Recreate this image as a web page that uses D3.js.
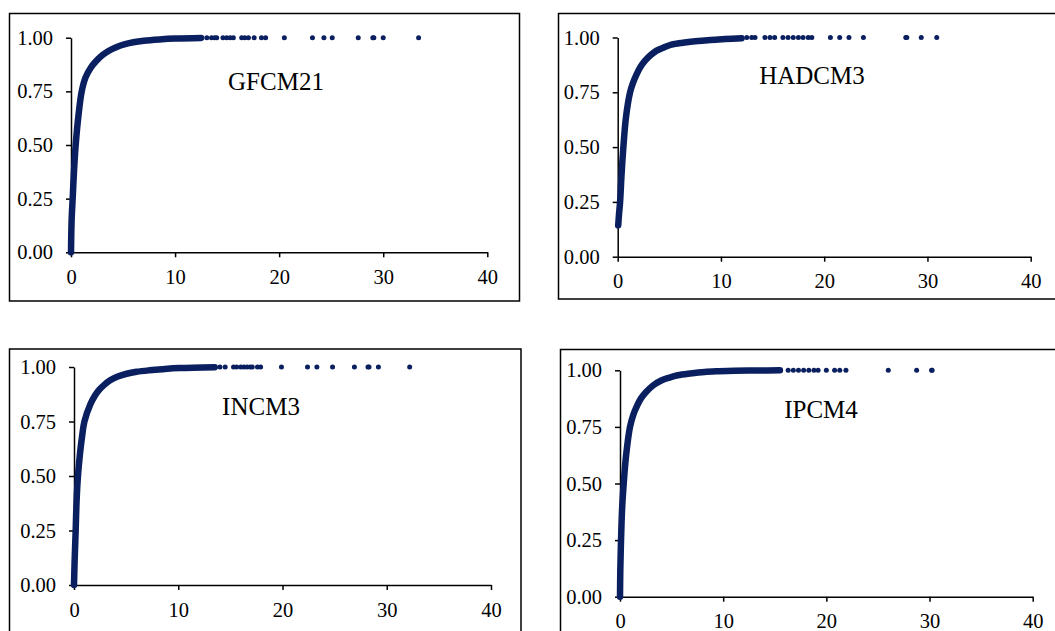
<!DOCTYPE html>
<html>
<head>
<meta charset="utf-8">
<script src="https://cdn.jsdelivr.net/npm/d3@7"></script>
<style>
    body { margin: 0; background: #fff; }
    svg { display: block; font-family: "Liberation Serif", "Times New Roman", serif; }
</style>
</head>
<body>
<svg id="chart" width="1055" height="631"></svg>
<script>
// values
let titles = ['GFCM21', 'HADCM3', 'INCM3', 'IPCM4'];
let xTicks = [0, 10, 20, 30, 40];
let yTicks = [0, 0.25, 0.5, 0.75, 1];

let gfcmX = [0, 0.06, 0.16, 0.29, 0.45, 0.7, 1.03, 1.4, 1.9, 2.4, 3.0, 3.6, 4.4, 5.2, 6.0, 7.0, 8.5, 10, 12.5];
let gfcmY = [0, 0.15, 0.25, 0.38, 0.5, 0.63, 0.75, 0.815, 0.86, 0.89, 0.918, 0.938, 0.957, 0.97, 0.979, 0.986, 0.992, 0.996, 0.999];
let gfcmTail = [13.05, 13.5, 13.8, 14.0, 14.6, 14.96, 15.3, 15.6, 16.4, 16.7, 17.05, 17.6, 18.3, 18.7, 20.5, 23.2, 24.3, 25.1, 27.6, 29.0, 29.1, 30.0, 33.4];

let hadX = [0.05, 0.12, 0.23, 0.38, 0.55, 0.8, 1.2, 1.5, 1.84, 2.2, 2.65, 3.2, 3.77, 4.5, 5.2, 6.3, 7.5, 9.0, 10.4, 12.0];
let hadY = [0.143, 0.19, 0.25, 0.38, 0.5, 0.636, 0.75, 0.795, 0.833, 0.865, 0.894, 0.92, 0.94, 0.955, 0.967, 0.976, 0.983, 0.989, 0.993, 0.997];
let hadTail = [12.5, 12.98, 13.3, 14.26, 14.75, 15.2, 16.0, 16.5, 17.0, 17.5, 17.95, 18.45, 18.8, 20.6, 21.5, 22.4, 23.8, 27.9, 28.0, 29.4, 30.9];

let incX = [0, 0.06, 0.16, 0.25, 0.38, 0.57, 0.77, 1.0, 1.58, 2.0, 2.37, 2.9, 3.47, 4.2, 5.05, 6.0, 7.26, 8.5, 10.1, 13.5];
let incY = [0, 0.11, 0.25, 0.387, 0.5, 0.6, 0.68, 0.75, 0.83, 0.868, 0.893, 0.918, 0.939, 0.956, 0.969, 0.978, 0.985, 0.99, 0.995, 0.999];
let incTail = [14.0, 14.5, 15.3, 15.6, 16.0, 16.3, 16.6, 16.9, 17.1, 17.6, 17.9, 19.9, 22.4, 23.3, 24.8, 26.9, 28.2, 28.3, 29.2, 32.2];

let ipcX = [0, 0.03, 0.1, 0.2, 0.36, 0.58, 0.97, 1.3, 1.66, 2.05, 2.53, 3.2, 4.0, 4.8, 5.6, 6.8, 8.2, 9.6, 11.1, 13.5, 15.5];
let ipcY = [0, 0.118, 0.25, 0.385, 0.5, 0.62, 0.75, 0.805, 0.844, 0.877, 0.904, 0.933, 0.955, 0.968, 0.978, 0.986, 0.993, 0.996, 0.998, 0.999, 1.0];
let ipcTail = [16.3, 16.8, 17.3, 17.8, 18.3, 18.8, 19.2, 20.0, 20.8, 21.3, 21.9, 26.0, 28.75, 30.2, 30.25];

let color = '#0a1f5f';

// panel layout (pixels)
let panels = [
    {box: [9.5, 13.5, 510, 287.5], xr: [71, 487.3], yr: [252.3, 37.7], title: [276, 90], xs: gfcmX, ys: gfcmY, tail: gfcmTail},
    {box: [558.5, 13.5, 520, 285.5], xr: [617.7, 1030.7], yr: [256.7, 37.5], title: [812, 84], xs: hadX, ys: hadY, tail: hadTail},
    {box: [9.5, 349, 511.5, 300], xr: [74, 491], yr: [585, 367], title: [261, 415], xs: incX, ys: incY, tail: incTail},
    {box: [560.5, 349.5, 520, 300], xr: [620, 1032.7], yr: [596.7, 370.3], title: [821, 417.7], xs: ipcX, ys: ipcY, tail: ipcTail},
];

let svg = d3.select('#chart');

function draw_panel(p, name) {
    let g = svg.append('g');
    g.append('rect')
        .attr('x', p.box[0]).attr('y', p.box[1])
        .attr('width', p.box[2]).attr('height', p.box[3])
        .attr('fill', 'none')
        .attr('stroke', '#000')
        .attr('stroke-width', 1.5);

    let x = d3.scaleLinear().domain([0, 40]).range(p.xr);
    let y = d3.scaleLinear().domain([0, 1]).range(p.yr);

    let x_axis = g.append('g')
        .attr('transform', `translate(0, ${p.yr[0]})`)
        .call(d3.axisBottom(x).tickValues(xTicks).tickSize(5).tickPadding(12).tickSizeOuter(0));
    let y_axis = g.append('g')
        .attr('transform', `translate(${p.xr[0]}, 0)`)
        .call(d3.axisLeft(y).tickValues(yTicks).tickSize(5).tickPadding(13).tickSizeOuter(0).tickFormat(d3.format('.2f')));
    for (let ax of [x_axis, y_axis]) {
        ax.select('.domain').attr('stroke', '#000').attr('stroke-width', 1.5);
        ax.selectAll('.tick line').attr('stroke', '#000').attr('stroke-width', 1.5);
        ax.selectAll('.tick text')
            .attr('fill', '#000')
            .style('font-size', '20.5px')
            .style('font-family', '"Liberation Serif", "Times New Roman", serif');
    }

    let pts = p.xs.map((v, i) => [v, p.ys[i]]);
    let line = d3.line()
        .x(d => x(d[0]))
        .y(d => y(d[1]))
        .curve(d3.curveCatmullRom.alpha(0.5));
    g.append('path')
        .datum(pts)
        .attr('fill', 'none')
        .attr('stroke', color)
        .attr('stroke-width', 6.5)
        .attr('stroke-linecap', 'round')
        .attr('stroke-linejoin', 'round')
        .attr('d', line);

    g.append('g').selectAll('circle')
        .data(p.tail)
        .join('circle')
        .attr('cx', d => x(d))
        .attr('cy', y(1))
        .attr('r', 2.5)
        .attr('fill', color);

    g.append('text')
        .attr('x', p.title[0])
        .attr('y', p.title[1])
        .attr('text-anchor', 'middle')
        .style('font-size', '25px')
        .attr('fill', '#000')
        .text(name);
}

panels.forEach((p, i) => draw_panel(p, titles[i]));
</script>
</body>
</html>
